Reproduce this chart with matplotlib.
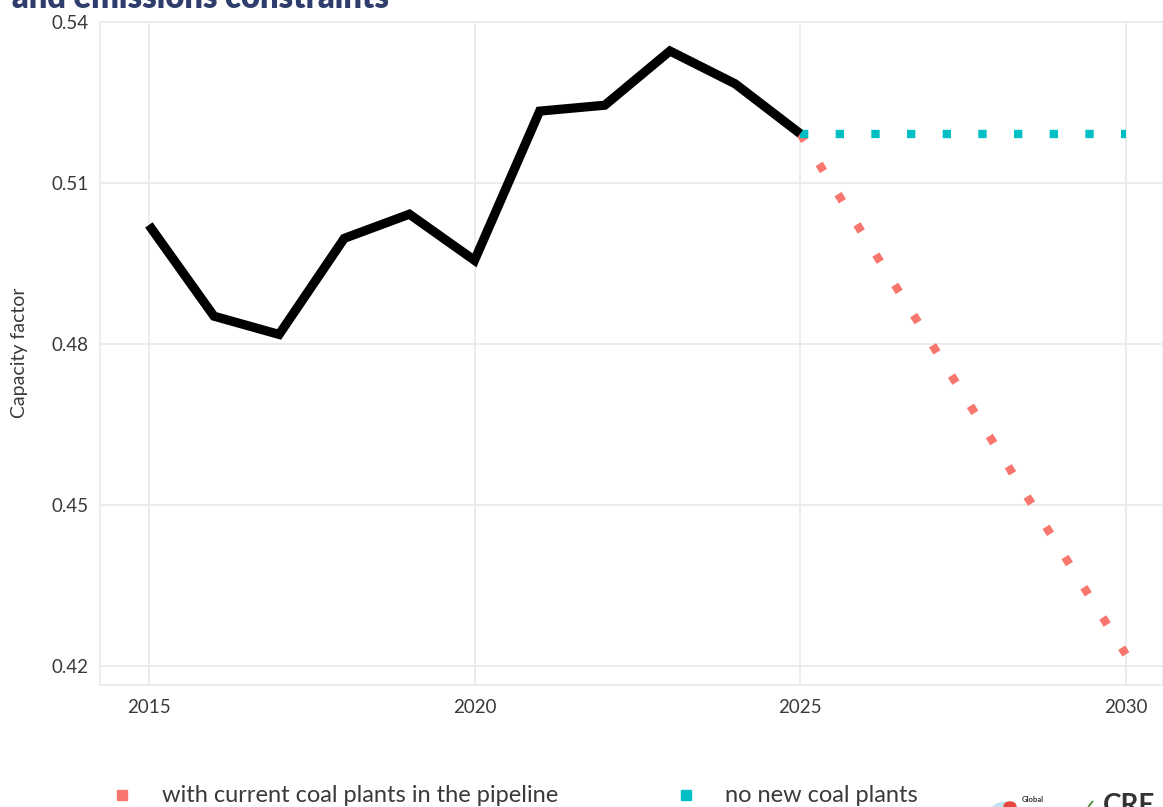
import numpy as np
import matplotlib
matplotlib.use('agg')
import matplotlib.pyplot as plt
from matplotlib.lines import Line2D
from matplotlib.patches import Circle

plt.rcParams['font.family'] = ['Lato', 'DejaVu Sans']

# data
years_hist = [2015, 2016, 2017, 2018, 2019, 2020, 2021, 2022, 2023, 2024, 2025]
cf_hist = [0.5022, 0.4852, 0.4818, 0.4997, 0.5042, 0.4956, 0.5234, 0.5245, 0.5346, 0.5285, 0.5192]

years_proj = [2025, 2030]
cf_pipeline = [0.5192, 0.4222]
cf_no_new = [0.5192, 0.5192]

red = '#F8766D'
cyan = '#00BFC4'
grid_col = '#EBEBEB'
text_col = '#3a3a3a'

fig = plt.figure(figsize=(11.63, 8.07), dpi=100)
ax = fig.add_axes([100 / 1163, 1 - 685 / 807, 1 - 100 / 1163, (685 - 22) / 807])

# projections
ax.plot(years_proj, cf_pipeline, color=red, lw=6.0, linestyle=(0, (1, 3.28)),
        dash_capstyle='butt', zorder=3)
ax.plot(years_proj, cf_no_new, color=cyan, lw=6.0, linestyle=(0, (1, 3.28)),
        dash_capstyle='butt', zorder=3)
# history
ax.plot(years_hist, cf_hist, color='black', lw=6.6, solid_capstyle='butt',
        solid_joinstyle='miter', zorder=4)

ax.set_xlim(2014.25, 2030.57)
ax.set_ylim(0.4165, 0.54)
ax.set_xticks([2015, 2020, 2025, 2030])
ax.set_yticks([0.42, 0.45, 0.48, 0.51, 0.54])
ax.set_yticklabels(['0.42', '0.45', '0.48', '0.51', '0.54'])
ax.tick_params(length=0, labelsize=13.5, labelcolor=text_col)
ax.tick_params(axis='y', pad=8)
ax.tick_params(axis='x', pad=10)
ax.grid(True, color=grid_col, lw=1.3)
ax.set_axisbelow(True)
for s in ax.spines.values():
    s.set_color(grid_col)
    s.set_linewidth(1.3)

fig.text(20 / 1163, 1 - 353 / 807, 'Capacity factor', rotation=90, ha='center',
         va='center', fontsize=14, color=text_col)

# title (cut off at the top)
fig.text(12 / 1163, 1 - 8 / 807, 'and emissions constraints', fontsize=23.5,
         fontweight='heavy', color='#2E3D6B', ha='left', va='baseline')

# legend
ly = 1 - 795 / 807
fig.add_artist(Line2D([122 / 1163], [ly], marker='s', markersize=6.5, color=red,
                      transform=fig.transFigure))
fig.text(162 / 1163, ly, 'with current coal plants in the pipeline', fontsize=17,
         color=text_col, va='center', ha='left')
fig.add_artist(Line2D([686 / 1163], [ly], marker='s', markersize=6.5, color=cyan,
                      transform=fig.transFigure))
fig.text(725 / 1163, ly, 'no new coal plants', fontsize=17,
         color=text_col, va='center', ha='left')

# logos (rough)
fig.add_artist(Circle((1005 / 1163, 1 - 812 / 807), 0.012, color='#bfe3f2',
                      transform=fig.transFigure))
fig.add_artist(Circle((1010 / 1163, 1 - 806 / 807), 0.005, color='#e8453c',
                      transform=fig.transFigure))
fig.text(1022 / 1163, 1 - 800 / 807, 'Global', fontsize=5.5, fontweight='bold',
         color='#333333', ha='left', va='center')
fig.text(1080 / 1163, 1 - 814 / 807, '✓', fontsize=15, color='#4a8a3a',
         ha='left', va='baseline', family=['DejaVu Sans'])
fig.text(1103 / 1163, 1 - 814 / 807, 'CRE', fontsize=20, fontweight='bold',
         color='#333333', ha='left', va='baseline')

fig.savefig('out.png', dpi=100)
